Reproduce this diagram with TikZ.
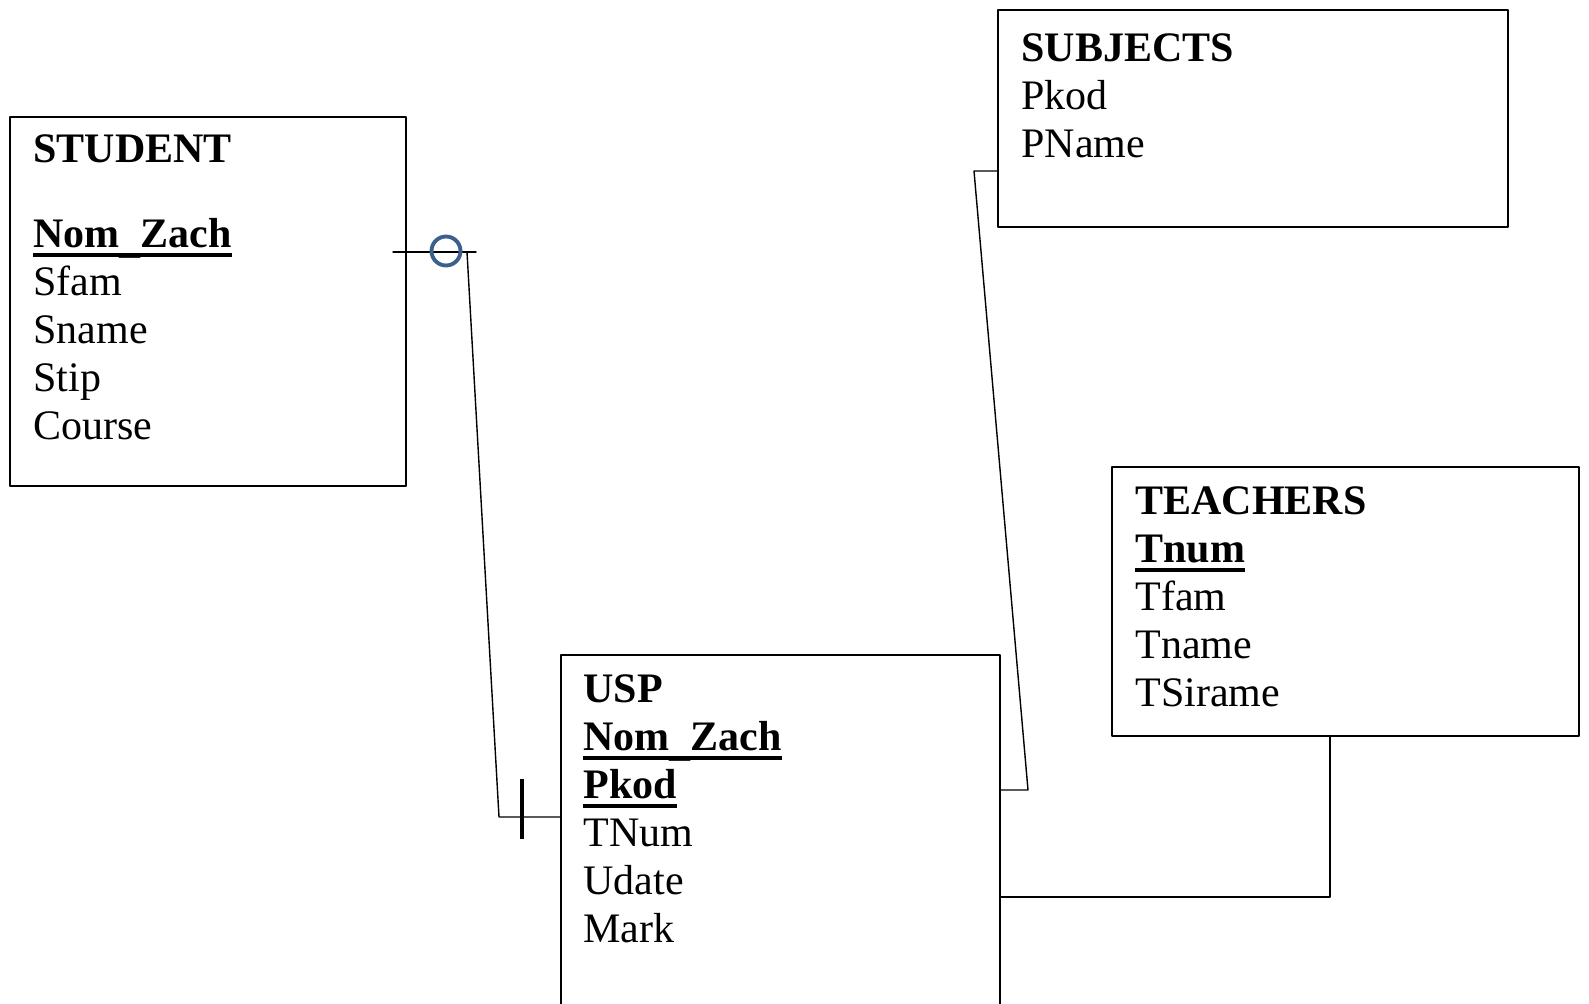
\documentclass[tikz,border=0pt]{standalone}
\usepackage{fontspec}
\setmainfont{Liberation Serif}
\definecolor{optblue}{RGB}{59,96,140}
\newsavebox{\keybox}
\newcommand{\keyattr}[1]{\sbox{\keybox}{#1}\rlap{\rule[-0.19cm]{\wd\keybox}{0.08cm}}\usebox{\keybox}}
\newcommand{\lowbar}{\raisebox{-0.1cm}{\_}}

\begin{document}
\begin{tikzpicture}[line cap=round,line join=round,
    entbox/.style={draw, line width=1.1pt, inner sep=0pt},
    attrs/.style={anchor=north west, inner sep=0pt, align=left,
      font=\fontsize{23.9}{27.3}\selectfont},
    link/.style={line width=0.8pt},
    optional/.style={circle, draw=optblue, line width=2.2pt,
      minimum size=0.58cm, inner sep=0pt},
    mandatory/.style={line width=2.8pt, line cap=butt}]
  \useasboundingbox (0,0) rectangle (31.78,-20.06);
  \clip (0,0) rectangle (31.78,-20.06);

  % tables
  \node[entbox, minimum width=7.92cm, minimum height=7.38cm] (student) at (4.16,-6.03) {};
  \node[entbox, minimum width=10.20cm, minimum height=4.34cm] (subjects) at (25.06,-2.37) {};
  \node[entbox, minimum width=9.34cm, minimum height=5.38cm] (teachers) at (26.91,-12.03) {};
  \node[entbox, minimum width=8.78cm, minimum height=7.20cm] (usp) at (15.61,-16.70) {};

  \node[attrs] (student-attrs) at (0.66,-2.69)
    {\textbf{STUDENT}\\[0.74cm]\keyattr{\textbf{Nom\lowbar Zach}}\\Sfam\\Sname\\Stip\\Course};
  \node[attrs] (subjects-attrs) at (20.42,-0.67)
    {\textbf{SUBJECTS}\\Pkod\\PName};
  \node[attrs] (teachers-attrs) at (22.70,-9.73)
    {\textbf{TEACHERS}\\\keyattr{\textbf{Tnum}}\\Tfam\\Tname\\TSirame};
  \node[attrs] (usp-attrs) at (11.66,-13.49)
    {\textbf{USP}\\\keyattr{\textbf{Nom\lowbar Zach}}\\\keyattr{\textbf{Pkod}}\\TNum\\Udate\\Mark};

  % STUDENT -- USP
  \coordinate (stubS) at (7.86,-5.04);
  \coordinate (stubE) at (9.52,-5.04);
  \coordinate (bendA) at (9.34,-5.04);
  \coordinate (bendB) at (9.98,-16.34);
  \draw[link] (stubS) -- (stubE);
  \draw[link] (bendA) -- (bendB) -- (usp.west |- bendB);
  \node[optional] (opt) at (8.92,-5.02) {};
  \draw[mandatory] ([xshift=0.46cm]bendB) ++(0,0.76) -- ++(0,-1.2);

  % SUBJECTS -- USP
  \coordinate (subjA) at (19.48,-3.42);
  \coordinate (subjB) at (20.56,-15.80);
  \draw[link] (subjects.west |- subjA) -- (subjA) -- (subjB) -- (usp.east |- subjB);

  % TEACHERS -- USP
  \coordinate (teachA) at (26.60,-17.94);
  \draw[link] (teachers.south -| teachA) -- (teachA) -- (usp.east |- teachA);
\end{tikzpicture}
\end{document}
